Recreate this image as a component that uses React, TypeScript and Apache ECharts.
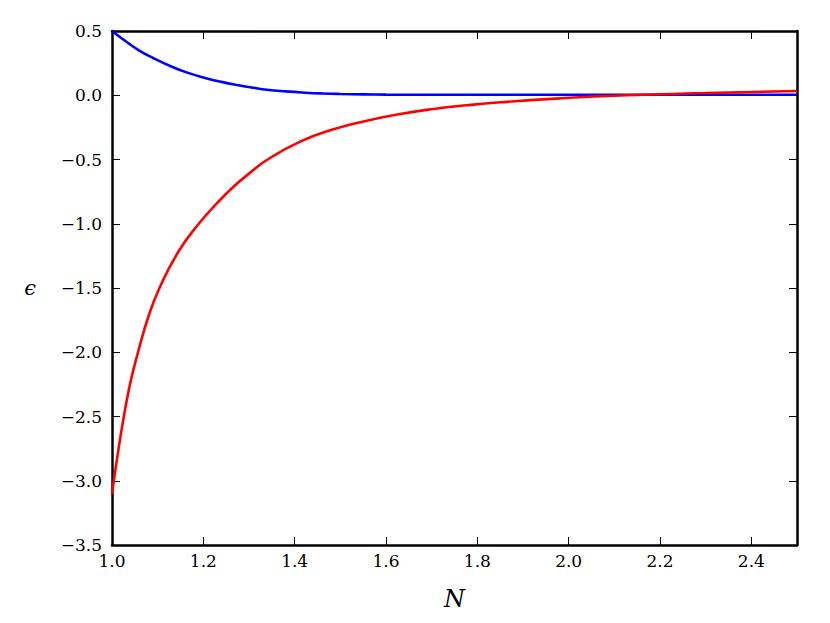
import React, { useEffect, useRef } from "react";
import * as echarts from "echarts";

const blueN = [1.0, 1.03, 1.058, 1.09, 1.131, 1.165, 1.204, 1.24, 1.277, 1.31, 1.339, 1.38, 1.423, 1.46, 1.5, 1.55, 1.6, 1.7, 2.0, 2.5];
const blueEps = [0.5, 0.42, 0.352, 0.29, 0.222, 0.176, 0.135, 0.104, 0.078, 0.058, 0.043, 0.03, 0.02, 0.014, 0.01, 0.007, 0.005, 0.004, 0.004, 0.004];

const redN = [1.0, 1.004, 1.014, 1.025, 1.04, 1.057, 1.08, 1.104, 1.145, 1.19, 1.23, 1.266, 1.3, 1.339, 1.412, 1.485, 1.558, 1.631, 1.704, 1.777, 1.85, 1.981, 2.128, 2.3, 2.5];
const redEps = [-3.1, -3.0, -2.76, -2.52, -2.24, -2.0, -1.72, -1.5, -1.22, -1.0, -0.84, -0.712, -0.61, -0.504, -0.361, -0.265, -0.198, -0.146, -0.107, -0.078, -0.055, -0.024, 0.0, 0.017, 0.033];

const xTicks = [1.0, 1.2, 1.4, 1.6, 1.8, 2.0, 2.2, 2.4];
const yTicks = [0.5, 0.0, -0.5, -1.0, -1.5, -2.0, -2.5, -3.0, -3.5];

const FONT = "'DejaVu Serif', 'Liberation Serif', serif";

export default function App() {
  const ref = useRef<HTMLDivElement>(null);
  useEffect(() => {
    document.body.style.margin = "0";
    const chart = echarts.init(ref.current!, null, { renderer: "svg" });
    const fmtY = (v: number) => {
      const hit = yTicks.some((t) => Math.abs(t - v) < 1e-9);
      if (!hit) return "";
      const s = v.toFixed(1);
      return s.startsWith("-") ? "\u2212" + s.slice(1) : s;
    };
    const fmtX = (v: number) => {
      const hit = xTicks.some((t) => Math.abs(t - v) < 1e-9);
      return hit ? v.toFixed(1) : "";
    };
    const tickStyle = { show: true, inside: true, length: 8, lineStyle: { color: "#000", width: 1 } };
    const axisLine = { show: true, onZero: false, lineStyle: { color: "#000", width: 2.5 } };
    chart.setOption({
      animation: false,
      backgroundColor: "#fff",
      grid: { left: 112, right: 33, top: 31, bottom: 78, containLabel: false },
      xAxis: [
        {
          type: "value",
          min: 1.0,
          max: 2.5,
          interval: 0.2,
          position: "bottom",
          axisLine,
          axisTick: tickStyle,
          splitLine: { show: false },
          axisLabel: { formatter: fmtX, color: "#000", fontFamily: FONT, fontSize: 17, margin: 7 },
          name: "N",
          nameLocation: "middle",
          nameGap: 42,
          nameTextStyle: { fontFamily: FONT, fontStyle: "italic", fontSize: 24, color: "#000" },
        },
        {
          type: "value",
          min: 1.0,
          max: 2.5,
          interval: 0.2,
          position: "top",
          axisLine,
          axisTick: tickStyle,
          splitLine: { show: false },
          axisLabel: { show: false },
        },
      ],
      yAxis: [
        {
          type: "value",
          min: -3.5,
          max: 0.5,
          interval: 0.5,
          position: "left",
          axisLine,
          axisTick: tickStyle,
          splitLine: { show: false },
          axisLabel: { formatter: fmtY, color: "#000", fontFamily: FONT, fontSize: 17, margin: 10 },
          name: "\u03f5",
          nameLocation: "middle",
          nameGap: 76,
          nameRotate: 0,
          nameTextStyle: { fontFamily: FONT, fontStyle: "italic", fontSize: 21, color: "#000" },
        },
        {
          type: "value",
          min: -3.5,
          max: 0.5,
          interval: 0.5,
          position: "right",
          axisLine,
          axisTick: tickStyle,
          splitLine: { show: false },
          axisLabel: { show: false },
        },
      ],
      series: [
        {
          type: "line",
          data: blueN.map((n, i) => [n, blueEps[i]]),
          showSymbol: false,
          smooth: 0.5,
          lineStyle: { color: "#0000ff", width: 2.6 },
          itemStyle: { color: "#0000ff" },
          z: 3,
        },
        {
          type: "line",
          data: redN.map((n, i) => [n, redEps[i]]),
          showSymbol: false,
          smooth: 0.5,
          lineStyle: { color: "#ff0000", width: 2.6 },
          itemStyle: { color: "#ff0000" },
          z: 4,
        },
      ],
    });
    return () => chart.dispose();
  }, []);
  return <div ref={ref} style={{ position: "fixed", left: 0, top: 0, width: 830, height: 623 }} />;
}
